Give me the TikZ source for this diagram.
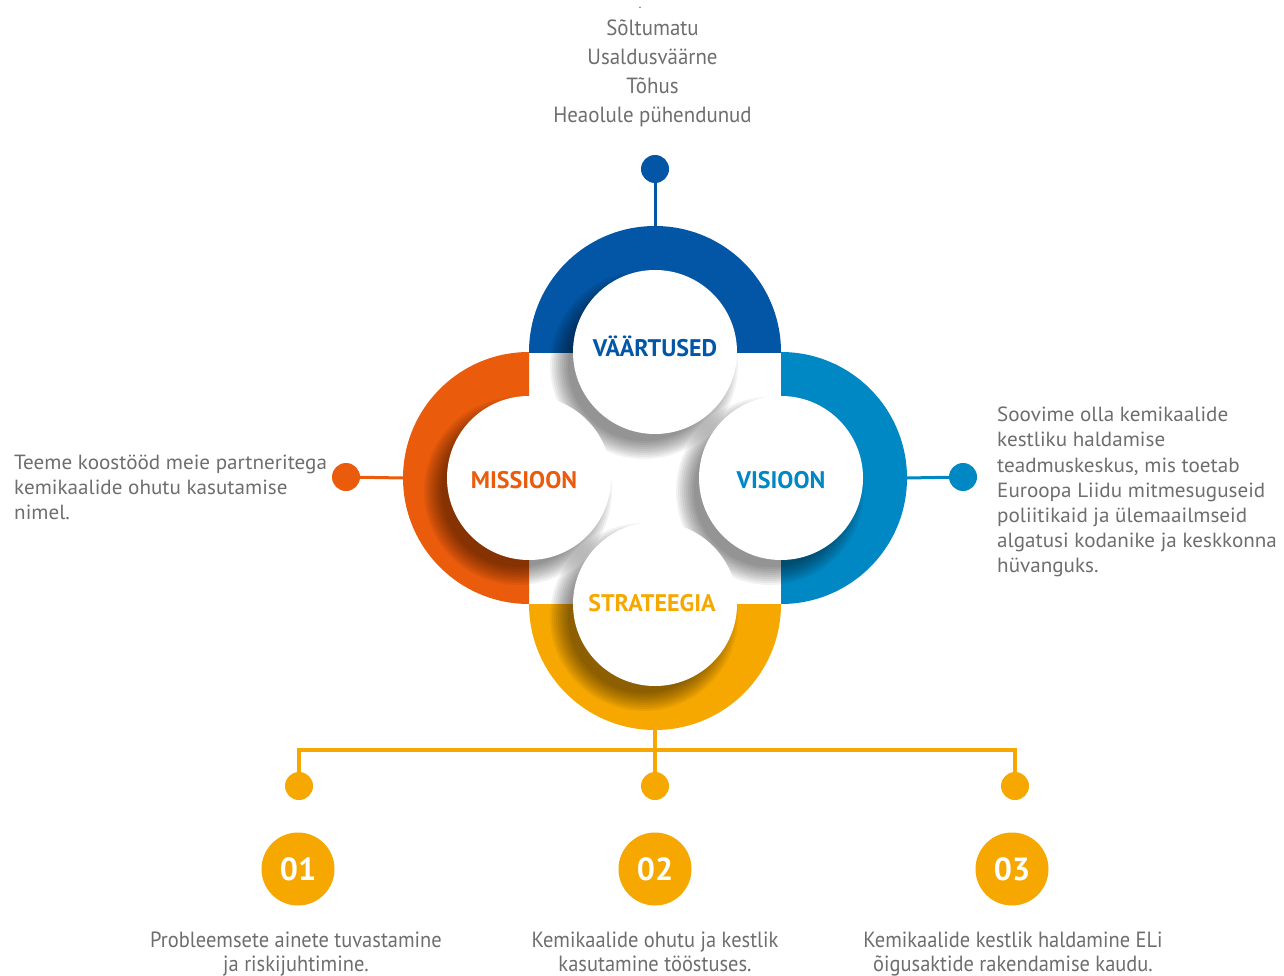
\documentclass[tikz,border=0pt]{standalone}
\usepackage{fontspec}
\setmainfont{PT Sans}
\newfontfamily\condfont[FakeStretch=0.93]{PT Sans}
\newfontfamily\topfam[FakeStretch=0.95]{PT Sans}
\newfontfamily\sidefam[FakeStretch=1.03]{PT Sans}
\usetikzlibrary{calc}
\definecolor{dblue}{HTML}{0256A5}
\definecolor{lblue}{HTML}{0088C4}
\definecolor{orng}{HTML}{EA5B0C}
\definecolor{yell}{HTML}{F6A800}
\definecolor{txt}{HTML}{6E6E6E}
\newcommand\topfont{\topfam\fontsize{22}{29}\selectfont}
\newcommand\sidefont{\sidefam\fontsize{20.5}{25.2}\selectfont}
\newcommand\botfont{\condfont\fontsize{22}{24.7}\selectfont}
\newcommand\labfont{\bfseries\fontsize{24}{24}\selectfont}
\newcommand\numfont{\bfseries\fontsize{32}{32}\selectfont}
\newcommand\llines[1]{\vtop{\halign{##\hfil\cr#1\crcr}}}
\newcommand\clines[1]{\vtop{\halign{\hfil##\hfil\cr#1\crcr}}}
\begin{document}
\begin{tikzpicture}[x=1pt,y=-1pt,
  wc/.style={circle,fill=white,inner sep=0,minimum size=164pt},
  dotn/.style={circle,inner sep=0,minimum size=28pt},
  numc/.style={circle,fill=yell,inner sep=0,minimum size=73pt,text=white,font=\numfont},
  lab/.style={anchor=base,inner sep=0,font=\labfont},
  body/.style={inner sep=0,text=txt},
  link/.style={line width=3pt}]
\useasboundingbox[fill=white] (0,0) rectangle (1284,976);
% coloured half discs
\begin{scope}\clip (529,200) rectangle (781,352);\fill[dblue] (655,352) circle[radius=126];\end{scope}
\begin{scope}\clip (781,340) rectangle (930,604);\fill[lblue] (781,478) circle[radius=126];\end{scope}
\begin{scope}\clip (529,604) rectangle (781,760);\fill[yell] (655,604) circle[radius=126];\end{scope}
\begin{scope}\clip (380,352) rectangle (529,604);\fill[orng] (529,478) circle[radius=126];\end{scope}
% shadows
\begin{scope}
\clip (403,226) rectangle (907,730);
\foreach \cx/\cy in {655/352,781/478,655/604,529/478}{
  \foreach \k in {0,...,9}{\fill[black,opacity=0.05] (\cx-11,\cy+13) circle[radius=76+2*\k];}
}
\end{scope}
% white circles
\node[wc] (cv) at (655,352) {};
\node[wc] (cvi) at (781,478) {};
\node[wc] (cs) at (655,604) {};
\node[wc] (cm) at (529,478) {};
% labels
\node[lab,text=dblue] (lv) at (655,356) {VÄÄRTUSED};
\node[lab,text=orng] (lm) at (524,488) {MISSIOON};
\node[lab,text=lblue] (lvi) at (781,488) {VISIOON};
\node[lab,text=yell] (ls) at (652,611) {STRATEEGIA};
% connectors
\coordinate (rt) at (655,226);
\node[dotn,fill=dblue] (dt) at (655,169) {};
\draw[link,dblue] (dt) -- (rt);
\coordinate (rl) at (403,478);
\node[dotn,fill=orng] (dl) at (346,477) {};
\draw[link,orng] (dl) -- (rl);
\coordinate (rr) at (907,478);
\node[dotn,fill=lblue] (dr) at (963,477) {};
\draw[link,lblue] (rr) -- (dr);
\coordinate (rb) at (655,730);
\coordinate (b1) at (299,750);
\coordinate (b3) at (1015,750);
\node[dotn,fill=yell] (d1) at (299,786) {};
\node[dotn,fill=yell] (d2) at (655,786) {};
\node[dotn,fill=yell] (d3) at (1015,786) {};
\draw[link,yell,line width=3.5pt] (d1) -- (b1) -- (b3) -- (d3);
\draw[link,yell,line width=3.5pt] (rb) -- (d2);
% numbers
\node[numc] (n1) at (298,869) {01};
\node[numc] (n2) at (655,869) {02};
\node[numc] (n3) at (1012,869) {03};
% texts
\node[body,anchor=base,font=\fontsize{14}{14}\selectfont] (dotmark) at (640,9) {.};
\node[body,anchor=base] (tv) at (652.5,35.7) {\topfont\clines{Sõltumatu\cr Usaldusväärne\cr Tõhus\cr Heaolule pühendunud}};
\node[body,anchor=base west] (tm) at (14,469.3) {\sidefont\llines{Teeme koostööd meie partneritega\cr kemikaalide ohutu kasutamise\cr nimel.}};
\node[body,anchor=base west] (tvi) at (997,421.7) {\sidefont\llines{Soovime olla kemikaalide\cr kestliku haldamise\cr teadmuskeskus, mis toetab\cr Euroopa Liidu mitmesuguseid\cr poliitikaid ja ülemaailmseid\cr algatusi kodanike ja keskkonna\cr hüvanguks.}};
\node[body,anchor=base] (t1) at (296,947) {\botfont\clines{Probleemsete ainete tuvastamine\cr ja riskijuhtimine.}};
\node[body,anchor=base] (t2) at (655,947) {\botfont\clines{Kemikaalide ohutu ja kestlik\cr kasutamine tööstuses.}};
\node[body,anchor=base] (t3) at (1013,947) {\botfont\clines{Kemikaalide kestlik haldamine ELi\cr õigusaktide rakendamise kaudu.}};
\end{tikzpicture}
\end{document}
